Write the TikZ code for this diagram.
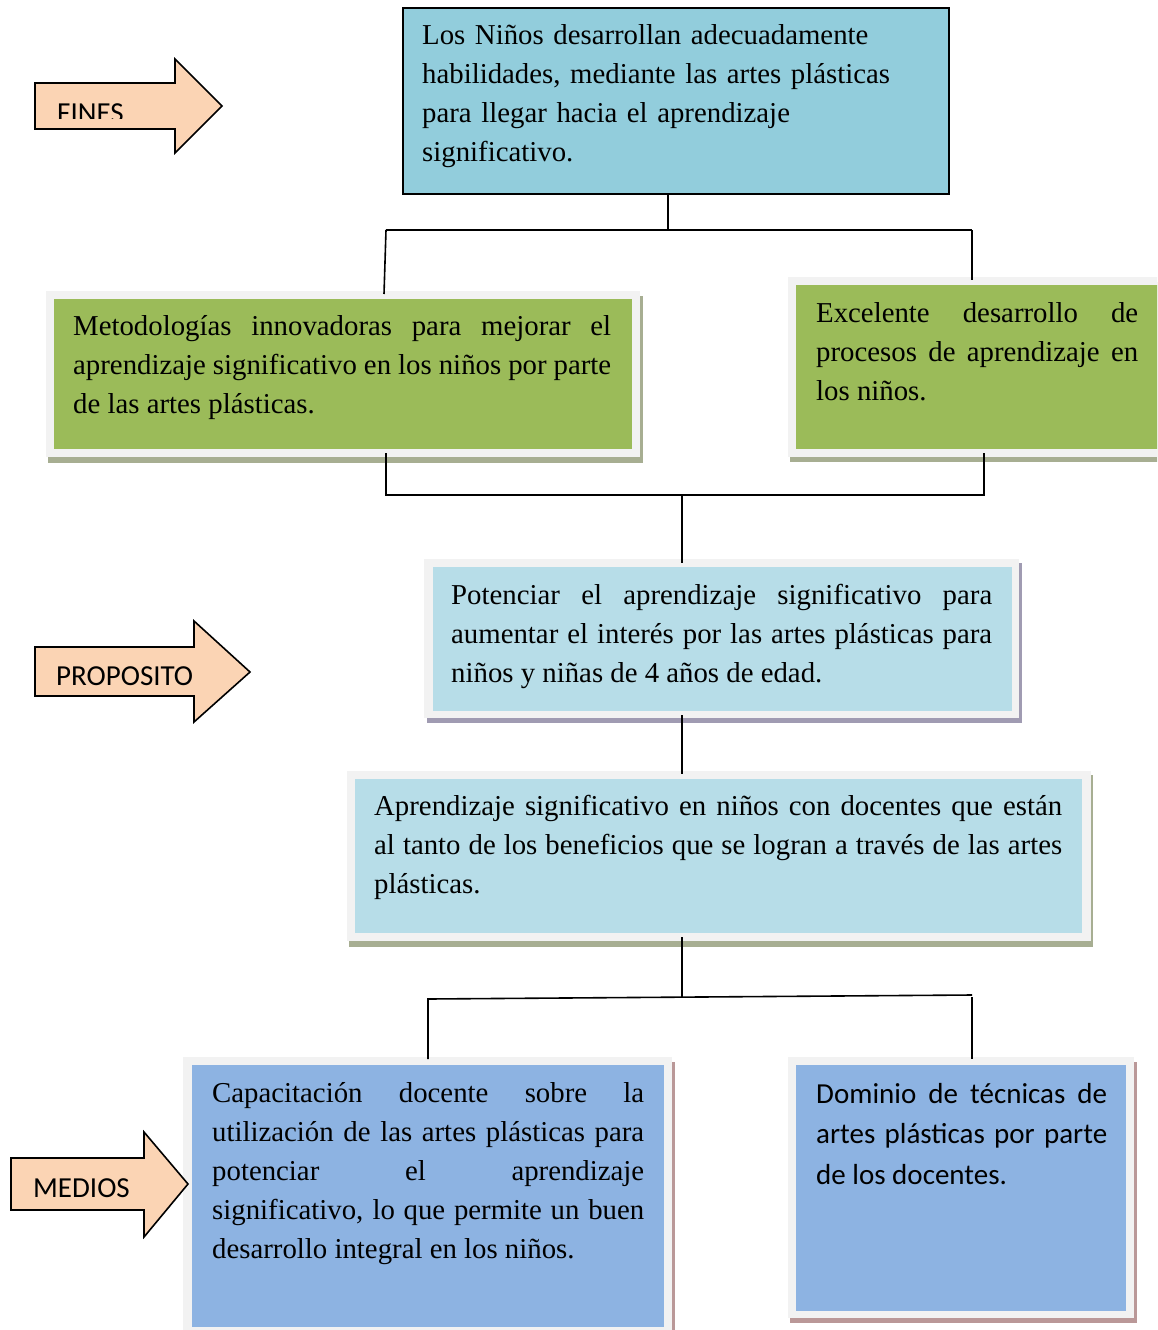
\documentclass[tikz,border=0pt]{standalone}
\usepackage{fontspec}
\setmainfont{Liberation Serif}
\newfontfamily\calib{Carlito}
\definecolor{peach}{HTML}{FBD4B4}
\definecolor{topblue}{HTML}{92CDDC}
\definecolor{accgreen}{HTML}{9BBB59}
\definecolor{lightblue}{HTML}{B7DDE8}
\definecolor{midblue}{HTML}{8DB3E2}
\definecolor{framegray}{HTML}{F2F2F2}
\definecolor{shgreen}{HTML}{A7AE92}
\definecolor{shpurple}{HTML}{A09BB2}
\definecolor{shrose}{HTML}{BA9898}
\hyphenpenalty=10000
\exhyphenpenalty=10000
\begin{document}
\begin{tikzpicture}[x=1pt,y=-1pt,
  conn/.style={draw=black, line width=1.6pt},
  arrowshape/.style={fill=peach, draw=black, line width=1.6pt, line join=miter},
  inner/.style={anchor=north west, inner sep=0pt, draw=none},
  serifpara/.style={anchor=base west, inner sep=0pt, align=justify, font=\fontsize{28.8}{39}\selectfont},
  sanspara/.style={anchor=base west, inner sep=0pt, align=justify, font=\calib\fontsize{29}{40.5}\selectfont},
  sanslabel/.style={anchor=base west, inner sep=0pt, font=\calib\fontsize{29}{34}\selectfont}]
\useasboundingbox (0,0) rectangle (1157,1330);
\clip (0,0) rectangle (1157,1330);
\fill[white] (0,0) rectangle (1157,1330);

% ---------- top box ----------
\node[inner, draw=black, line width=1.6pt, fill=topblue, minimum width=546pt, minimum height=186pt] (fin) at (402,7) {};
\node[serifpara, align=left, text width=525pt] (fintext) at (422,45)
  {Los Niños desarrollan adecuadamente\\habilidades, mediante las artes plásticas\\para llegar hacia el aprendizaje\\significativo.};

% ---------- left green ----------
\fill[shgreen] (48,296) rectangle (643,463);
\fill[framegray] (46,291) rectangle (640,457);
\node[inner, fill=accgreen, minimum width=578pt, minimum height=150pt] (met) at (54,299) {};
\node[serifpara, text width=538pt] (mettext) at (73,335)
  {Metodologías innovadoras para mejorar el\linebreak aprendizaje significativo en los niños por parte\linebreak de las artes plásticas.};

% ---------- right green ----------
\fill[shgreen] (790,282) rectangle (1165,462);
\fill[framegray] (788,277) rectangle (1165,457);
\node[inner, fill=accgreen, minimum width=370pt, minimum height=164pt] (exc) at (796,285) {};
\node[serifpara, text width=322pt] (exctext) at (816,322)
  {Excelente desarrollo de\linebreak procesos de aprendizaje en\linebreak los niños.};

% ---------- Potenciar ----------
\fill[shpurple] (427,563) rectangle (1022,723);
\fill[framegray] (424,559) rectangle (1019,718);
\node[inner, fill=lightblue, minimum width=579pt, minimum height=144pt] (pot) at (433,567) {};
\node[serifpara, text width=541pt] (pottext) at (451,604)
  {Potenciar el aprendizaje significativo para\linebreak aumentar el interés por las artes plásticas para\linebreak niños y niñas de 4 años de edad.};

% ---------- Aprendizaje ----------
\fill[shgreen] (349,775) rectangle (1093,947);
\fill[framegray] (347,771) rectangle (1091,941);
\node[inner, fill=lightblue, minimum width=727pt, minimum height=154pt] (apr) at (355,779) {};
\node[serifpara, text width=688pt] (aprtext) at (374,815)
  {Aprendizaje significativo en niños con docentes que están\linebreak al tanto de los beneficios que se logran a través de las artes\linebreak plásticas.};

% ---------- Capacitacion ----------
\fill[shrose] (186,1062) rectangle (675,1340);
\fill[framegray] (183,1057) rectangle (672,1340);
\node[inner, fill=midblue, minimum width=472pt, minimum height=262pt] (cap) at (192,1065) {};
\node[serifpara, text width=432pt] (captext) at (212,1102)
  {Capacitación docente sobre la\linebreak utilización de las artes plásticas para\linebreak potenciar el aprendizaje\linebreak significativo, lo que permite un buen\linebreak desarrollo integral en los niños.};

% ---------- Dominio ----------
\fill[shrose] (790,1062) rectangle (1137,1323);
\fill[framegray] (788,1057) rectangle (1134,1318);
\node[inner, fill=midblue, minimum width=330pt, minimum height=246pt] (dom) at (796,1065) {};
\node[sanspara, text width=291pt] (domtext) at (816,1103)
  {Dominio de técnicas de\linebreak artes plásticas por parte\linebreak de los docentes.};

% ---------- connectors ----------
\coordinate (finB) at (668,193);
\coordinate (j1) at (668,230);
\coordinate (j1L) at (386,230);
\coordinate (j1R) at (972,230);
\coordinate (metT) at (384,294);
\coordinate (excT) at (972,280);
\draw[conn] (finB) -- (j1);
\draw[conn] (j1L) -- (j1R);
\draw[conn] (j1L) -- (metT);
\draw[conn] (j1R) -- (excT);

\coordinate (metB) at (386,453);
\coordinate (excB) at (984,453);
\coordinate (j2L) at (386,495);
\coordinate (j2R) at (984,495);
\coordinate (j2) at (682,495);
\coordinate (potT) at (682,563);
\draw[conn] (metB) -- (j2L) -- (j2R) -- (excB);
\draw[conn] (j2) -- (potT);

\coordinate (potB) at (682,715);
\coordinate (aprT) at (682,774);
\draw[conn] (potB) -- (aprT);

\coordinate (aprB) at (682,937);
\coordinate (j3) at (682,997);
\coordinate (j3L) at (428,999);
\coordinate (j3R) at (972,995);
\coordinate (capT) at (428,1059);
\coordinate (domT) at (972,1059);
\coordinate (j3Rb) at (972,997);
\draw[conn] (aprB) -- (j3);
\draw[conn] (capT) -- (j3L) -- (j3R);
\draw[conn] (j3Rb) -- (domT);

% ---------- arrows (drawn on top) ----------
\draw[arrowshape] (35,83) -- (175,83) -- (175,59) -- (222,106) -- (175,153) -- (175,129) -- (35,129) -- cycle;
\begin{scope}
  \clip (36,84) rectangle (174,118.5);
  \node[sanslabel] (fines) at (57,122) {FINES};
\end{scope}
\draw[arrowshape] (35,647) -- (194,647) -- (194,621) -- (250,672) -- (194,722) -- (194,696) -- (35,696) -- cycle;
\node[sanslabel] (proposito) at (56,685) {PROPOSITO};
\draw[arrowshape] (11,1158) -- (144,1158) -- (144,1132) -- (188,1184) -- (144,1237) -- (144,1210) -- (11,1210) -- cycle;
\node[sanslabel] (medios) at (33,1197) {MEDIOS};
\end{tikzpicture}
\end{document}
